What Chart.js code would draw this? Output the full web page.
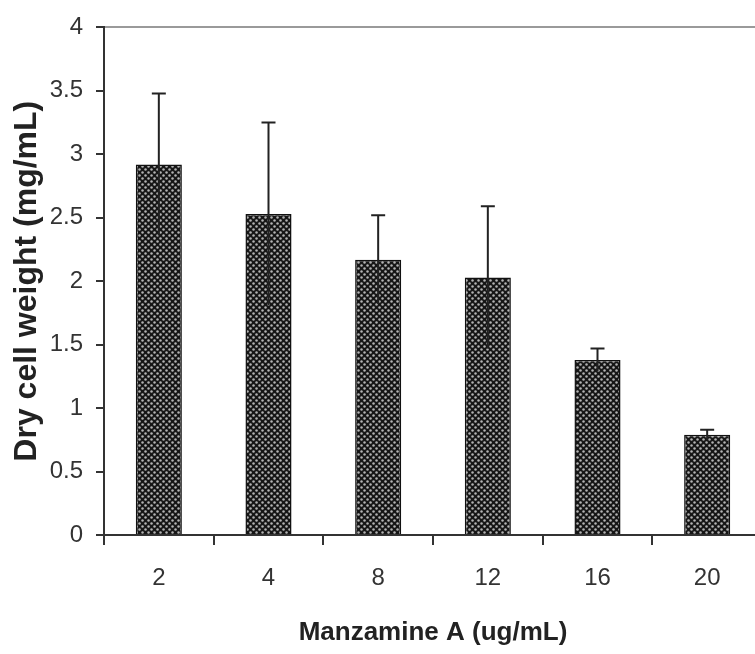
<!DOCTYPE html>
<html>
<head>
<meta charset="utf-8">
<script src="https://cdn.jsdelivr.net/npm/chart.js@4.4.1/dist/chart.umd.min.js"></script>
<style>
    html, body { margin: 0; padding: 0; background: #fff; overflow: hidden; }
    #wrap { width: 762px; height: 654px; }
</style>
</head>
<body>
<div id="wrap"><canvas id="dryChart" width="762" height="654"></canvas></div>
<script>
// Data
var doses = ['2', '4', '8', '12', '16', '20'];
var dryWeight = [2.92, 2.53, 2.17, 2.03, 1.38, 0.79];
var dryWeightErr = [0.56, 0.72, 0.35, 0.56, 0.09, 0.04];
var yTicks = [0, 0.5, 1, 1.5, 2, 2.5, 3, 3.5, 4];

// Dotted grey fill like the original bars
function makePattern() {
    var tile = document.createElement('canvas');
    tile.width = 6;
    tile.height = 6;
    var t = tile.getContext('2d');
    t.fillStyle = '#161616';
    t.fillRect(0, 0, 6, 6);
    t.fillStyle = '#b4b4b4';
    [[1.5, 1.5], [4.5, 4.5]].forEach(function (p) {
        t.beginPath();
        t.arc(p[0], p[1], 1.25, 0, Math.PI * 2);
        t.fill();
    });
    return document.getElementById('dryChart').getContext('2d').createPattern(tile, 'repeat');
}

// Error bars (upper cap only, like the original)
var errorBars = {
    id: 'errorBars',
    afterDatasetsDraw: function (chart) {
        var ctx = chart.ctx;
        var y = chart.scales.y;
        var meta = chart.getDatasetMeta(0);
        ctx.save();
        ctx.strokeStyle = '#222';
        ctx.lineWidth = 2;
        meta.data.forEach(function (bar, i) {
            var hi = y.getPixelForValue(dryWeight[i] + dryWeightErr[i]);
            var lo = y.getPixelForValue(dryWeight[i] - dryWeightErr[i]);
            ctx.beginPath();
            ctx.moveTo(bar.x, lo);
            ctx.lineTo(bar.x, hi);
            ctx.moveTo(bar.x - 7, hi);
            ctx.lineTo(bar.x + 7, hi);
            ctx.stroke();
        });
        ctx.restore();
    }
};

var ctx = document.getElementById('dryChart').getContext('2d');
var dryChart = new Chart(ctx, {
    type: 'bar',
    data: {
        labels: doses,
        datasets: [{
            label: 'Dry cell weight',
            data: dryWeight,
            backgroundColor: makePattern(),
            borderColor: '#111',
            borderWidth: 1.5,
            barPercentage: 0.42,
            categoryPercentage: 1
        }]
    },
    options: {
        responsive: false,
        animation: false,
        layout: { padding: { top: 22, left: 0, right: 0, bottom: 0 } },
        plugins: {
            legend: { display: false },
            tooltip: { enabled: false }
        },
        scales: {
            x: {
                afterFit: function (scale) { scale.height = 119; },
                grid: {
                    offset: true,
                    drawOnChartArea: false,
                    tickLength: 10,
                    tickColor: '#333',
                    lineWidth: 2
                },
                border: { color: '#333', width: 2 },
                ticks: {
                    color: '#333',
                    padding: 19,
                    font: { family: 'Liberation Sans, Arial', size: 24 }
                },
                title: {
                    display: true,
                    text: 'Manzamine A (ug/mL)',
                    color: '#222',
                    padding: { top: 4, bottom: 6 },
                    font: { family: 'Liberation Sans, Arial', size: 26, weight: 'bold' }
                }
            },
            y: {
                min: 0,
                max: 4,
                afterFit: function (scale) { scale.width = 104; },
                afterBuildTicks: function (scale) {
                    scale.ticks = yTicks.map(function (v) { return { value: v }; });
                },
                grid: {
                    color: function (c) { return c.tick && c.tick.value === 4 ? '#9a9a9a' : 'rgba(0,0,0,0)'; },
                    tickColor: '#333',
                    tickLength: 8,
                    lineWidth: 2
                },
                border: { color: '#333', width: 2 },
                ticks: {
                    color: '#333',
                    padding: 13,
                    font: { family: 'Liberation Sans, Arial', size: 24 },
                    callback: function (v) { return String(v); }
                },
                title: {
                    display: true,
                    text: 'Dry cell weight (mg/mL)',
                    color: '#222',
                    padding: { top: 8, bottom: 0 },
                    font: { family: 'Liberation Sans, Arial', size: 32, weight: 'bold' }
                }
            }
        }
    },
    plugins: [errorBars]
});
</script>
</body>
</html>
